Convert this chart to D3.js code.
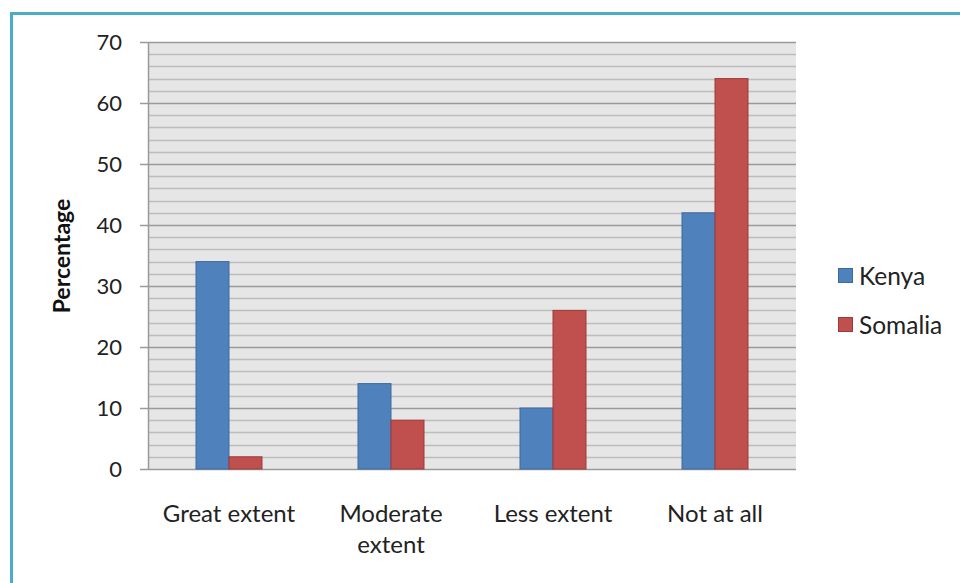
<!DOCTYPE html>
<html><head><meta charset="utf-8">
<script src="https://cdn.jsdelivr.net/npm/d3@7"></script>
<style>body{margin:0;background:#fff;}svg{display:block;font-family:Lato,"Open Sans",sans-serif;}</style>
</head><body><svg id="c" width="960" height="583"></svg>
<script>
const categories = ["Great extent", "Moderate extent", "Less extent", "Not at all"];
const seriesNames = ["Kenya", "Somalia"];
const kenya = [34, 14, 10, 42];
const somalia = [2, 8, 26, 64];
const yTicks = [0, 10, 20, 30, 40, 50, 60, 70];
const colors = ["#4f81bd", "#c0504d"];
const strokes = ["#3c6a9e", "#9c3b39"];

const svg = d3.select("#c");
// outer frame
svg.append("path").attr("d","M11.5,583 L11.5,13.5 L960,13.5").attr("fill","none").attr("stroke","#4bacc6").attr("stroke-width",3);

const L=148, R=796, T=42, B=469;
const x = d3.scaleBand().domain(categories).range([L,R]);
const y = d3.scaleLinear().domain([0,70]).range([B,T]);
svg.append("rect").attr("x",L).attr("y",T).attr("width",R-L).attr("height",B-T).attr("fill","#e6e6e6");
const minor = d3.range(0,71,2).filter(v=>v%10!==0);
svg.selectAll("line.mi").data(minor).join("line").attr("x1",L).attr("x2",R).attr("y1",d=>Math.round(y(d))+0.5).attr("y2",d=>Math.round(y(d))+0.5).attr("stroke","#bdbdbd").attr("stroke-width",1.5);
svg.selectAll("line.ma").data(yTicks).join("line").attr("x1",L-8).attr("x2",R).attr("y1",d=>Math.round(y(d))+0.5).attr("y2",d=>Math.round(y(d))+0.5).attr("stroke","#9a9a9a").attr("stroke-width",1.5);
svg.append("line").attr("x1",L+0.5).attr("x2",L+0.5).attr("y1",T).attr("y2",B).attr("stroke","#9a9a9a").attr("stroke-width",1.5);

const bw = 33;
const data = [kenya, somalia];
data.forEach((vals,si)=>{
  svg.selectAll("rect.s"+si).data(vals).join("rect")
    .attr("x",(d,i)=>x(categories[i])+x.bandwidth()/2 - bw + si*bw)
    .attr("y",d=>y(d)).attr("width",bw).attr("height",d=>B-y(d))
    .attr("fill",colors[si]).attr("stroke",strokes[si]).attr("stroke-width",1);
});

svg.selectAll("text.yt").data(yTicks).join("text").attr("x",122).attr("y",d=>y(d)+8)
  .attr("text-anchor","end").attr("font-size",22).attr("fill","#222").text(d=>d);

const catLines = [["Great extent"],["Moderate","extent"],["Less extent"],["Not at all"]];
categories.forEach((c,i)=>{
  const t = svg.append("text").attr("text-anchor","middle").attr("font-size",24).attr("fill","#222");
  catLines[i].forEach((ln,j)=>t.append("tspan").attr("x",x(c)+x.bandwidth()/2).attr("y",522+j*31).text(ln));
});

svg.append("text").attr("transform","translate(70,256) rotate(-90)").attr("text-anchor","middle")
  .attr("font-size",23).attr("font-weight","bold").attr("fill","#111").text("Percentage");

seriesNames.forEach((n,i)=>{
  const yy = 276 + i*49;
  svg.append("rect").attr("x",838.5).attr("y",yy-7.5).attr("width",14).attr("height",14).attr("fill",colors[i]).attr("stroke",strokes[i]);
  svg.append("text").attr("x",859).attr("y",yy+8.5).attr("font-size",24.5).attr("fill","#222").text(n);
});
</script></body></html>
